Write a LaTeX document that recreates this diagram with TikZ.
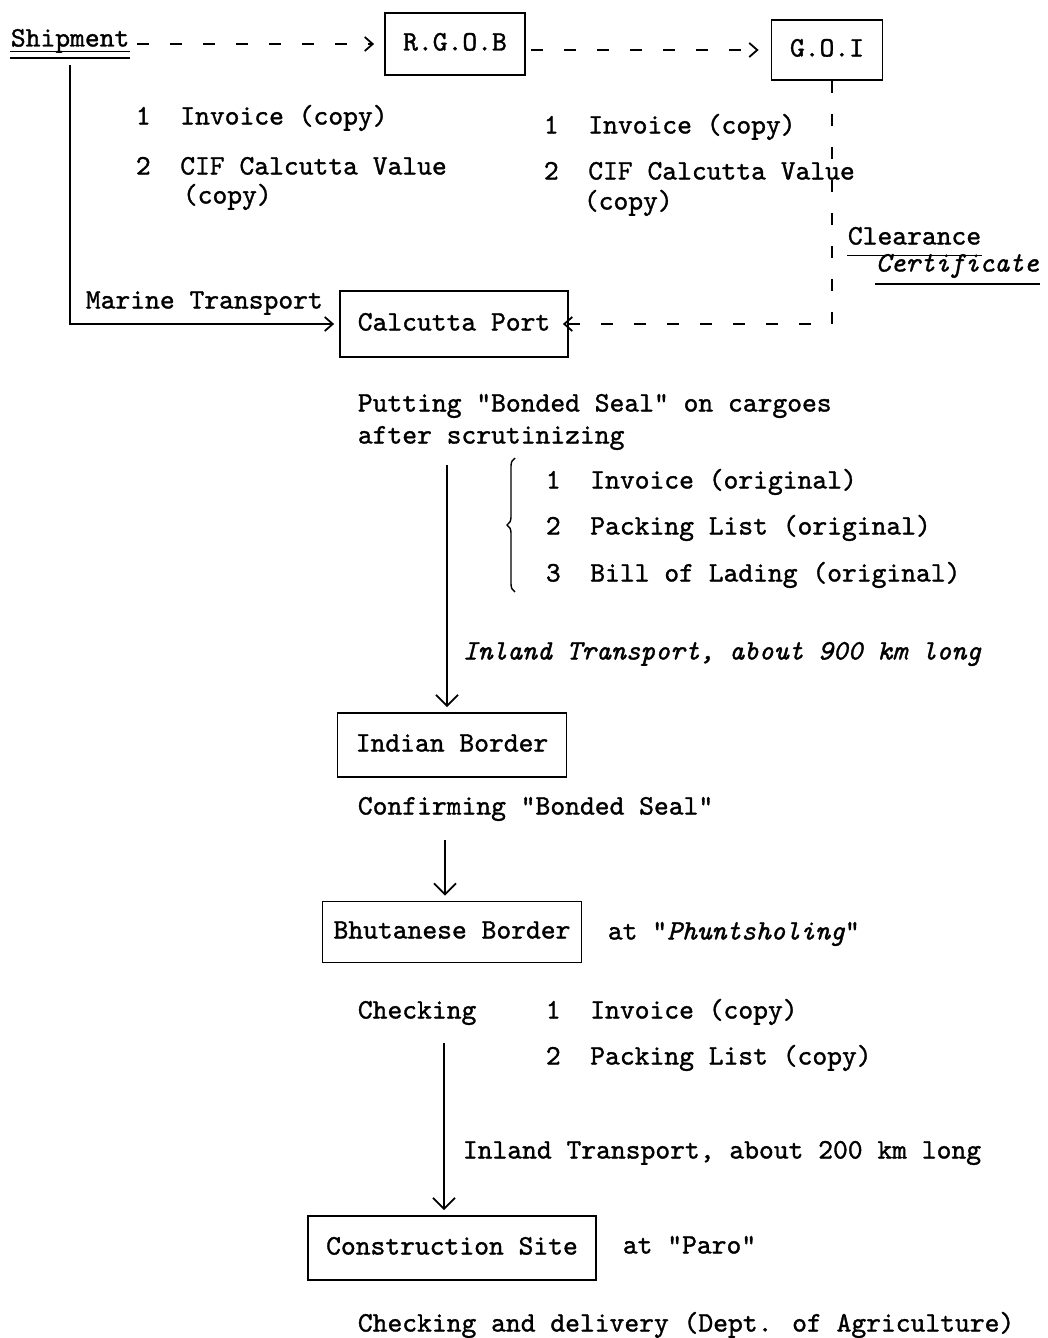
\documentclass[tikz,border=0pt]{standalone}
\usepackage{fontspec}
\newfontfamily\typer{lmmono10-regular.otf}[ItalicFont=lmmono10-italic.otf,FakeBold=1.2]
\usetikzlibrary{arrows.meta,decorations.pathreplacing}

\begin{document}
\begin{tikzpicture}[x=1pt,y=-1pt,line width=1.8pt,
	  every node/.style={inner sep=0pt,font=\fontsize{28.2}{34}\selectfont\typer},
	  office/.style={draw,minimum height=62pt,text height=19pt,text depth=6pt},
	  flow/.style={-{Straight Barb[length=11pt,width=22pt]},shorten >=5pt},
	  paper/.style={dash pattern=on 12pt off 21pt,-{Straight Barb[length=8pt,width=14pt]}}]
	  \tikzstyle{doc} = [anchor=west,text height=19pt,text depth=6pt]
	  \useasboundingbox (0,0) rectangle (1047,1338);
	  % offices
	  \node (ship) [doc] at (10,40) {Shipment};
	  \node (rgob) [office,minimum width=140pt] at (455,44) {R.G.O.B};
	  \node (goi) [office,minimum width=111pt,minimum height=60pt] at (827,50) {G.O.I};
	  \node (port) [office,minimum width=228pt,minimum height=66pt] at (454,324) {Calcutta Port};
	  \node (india) [office,minimum width=229pt,minimum height=64pt] at (452,745) {Indian Border};
	  \node (bhutan) [office,minimum width=259pt,minimum height=61pt] at (452,932) {Bhutanese Border};
	  \node (site) [office,minimum width=288pt,minimum height=64pt] at (452,1248) {Construction Site};
	  \draw[line width=1.3pt] ([yshift=2pt]ship.south west) -- ([yshift=2pt]ship.south east);
	  \draw[line width=1.3pt] ([yshift=-4.5pt]ship.south west) -- ([yshift=-4.5pt]ship.south east);
	  % documents
	  \node (rgob_1) [doc] at (135,118) {1~~Invoice (copy)};
	  \node (rgob_2) [doc] at (135,168) {2~~CIF Calcutta Value};
	  \node (rgob_3) [doc] at (182,197) {(copy)};
	  \node (goi_1) [doc] at (543,127) {1~~Invoice (copy)};
	  \node (goi_2) [doc] at (543,173) {2~~CIF Calcutta Value};
	  \node (goi_3) [doc] at (583,203) {(copy)};
	  \node (clear_1) [doc] at (847,238) {Clearance};
	  \node (clear_2) [doc] at (875,265) {\itshape Certificate};
	  \draw[line width=1.3pt] ([yshift=-4pt]clear_1.south west) -- ([yshift=-4pt]clear_1.south east);
	  \draw[line width=1.3pt] ([yshift=-5.5pt]clear_2.south west) -- ([yshift=-5.5pt]clear_2.south east);
	  \node (marine) [doc] at (85,302) {Marine Transport};
	  \node (port_1) [doc] at (357,405) {Putting "Bonded Seal" on cargoes};
	  \node (port_2) [doc] at (357,437) {after scrutinizing};
	  \node (orig_1) [doc] at (545,482) {1~~Invoice (original)};
	  \node (orig_2) [doc] at (545,528) {2~~Packing List (original)};
	  \node (orig_3) [doc] at (545,575) {3~~Bill of Lading (original)};
	  \draw[line width=1.4pt,decorate,decoration={brace,amplitude=8pt}] (515,592) -- (515,458);
	  \node (inland_1) [doc] at (462,653) {\itshape Inland Transport, about 900 km long};
	  \node (india_1) [doc] at (357,808) {Confirming "Bonded Seal"};
	  \node (bhutan_1) [doc] at (607,933) {at "\textit{Phuntsholing}"};
	  \node (check) [doc] at (357,1012) {Checking};
	  \node (copy_1) [doc] at (545,1012) {1~~Invoice (copy)};
	  \node (copy_2) [doc] at (545,1058) {2~~Packing List (copy)};
	  \node (inland_2) [doc] at (462,1152) {Inland Transport, about 200 km long};
	  \node (site_1) [doc] at (622,1247) {at "Paro"};
	  \node (site_2) [doc] at (357,1325) {Checking and delivery (Dept. of Agriculture)};
	  % connectors
	  \draw[paper,shorten <=7pt,shorten >=10pt] (ship.east |- rgob.west) -- (rgob.west);
	  \draw[paper,shorten <=5pt,shorten >=12pt] (rgob.east |- goi.west) -- (goi.west);
	  \draw[paper,shorten >=-6pt] ([xshift=5pt]goi.south) |- (port.east);
	  \draw[-{Straight Barb[length=8pt,width=14pt]},shorten <=12pt,shorten >=5pt] (ship.south) |- (port.west);
	  \coordinate (c_1) at (447,465);
	  \draw[flow] (c_1) -- (c_1 |- india.north);
	  \coordinate (c_2) at (445,840);
	  \draw[flow] (c_2) -- (c_2 |- bhutan.north);
	  \coordinate (c_3) at (444,1043);
	  \draw[flow] (c_3) -- (c_3 |- site.north);
\end{tikzpicture}
\end{document}
